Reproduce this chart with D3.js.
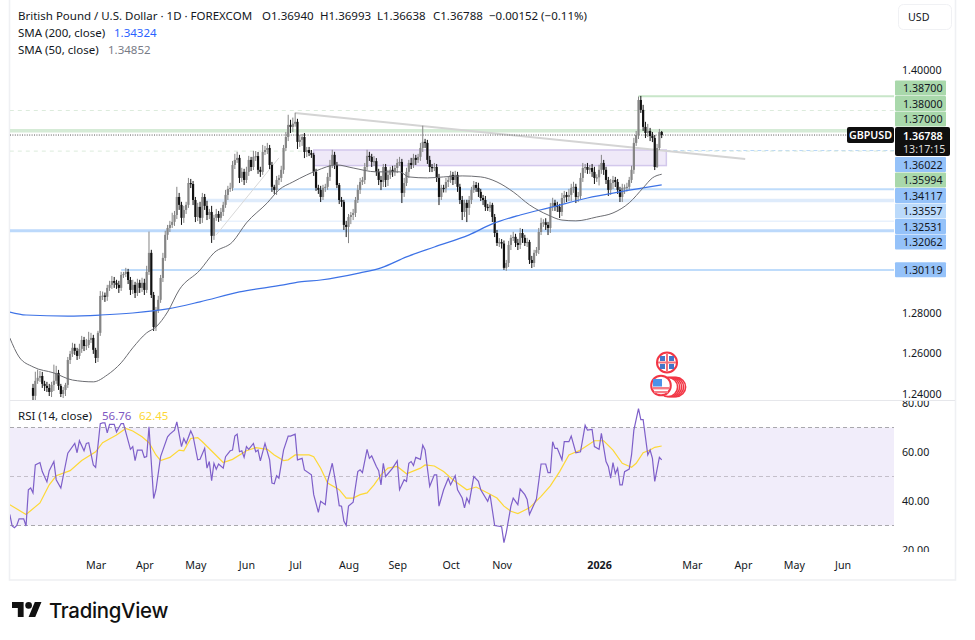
<!DOCTYPE html>
<html>
<head>
<meta charset="utf-8">
<title>GBPUSD daily</title>
<script src="https://cdnjs.cloudflare.com/ajax/libs/d3/7.9.0/d3.min.js"></script>
<style>
html,body{margin:0;padding:0;background:#fff}
svg{display:block}
text{font-family:"Noto Sans","Open Sans",sans-serif;font-size:10.7px;fill:#131722}
text.legend{font-size:11.5px}
</style>
</head>
<body>
<svg id="chart" width="975" height="640"></svg>
<script>
// Daily closes, Feb 2025 to Feb 2026 (each session opens at the prior close)
const firstOpen = 1.2430;
const closes = [
1.2391,1.2465,1.2480,1.2489,1.2450,1.2440,1.2430,1.2410,1.2445,1.2465,
1.2504,1.2440,1.2400,1.2420,1.2445,1.2568,1.2598,1.2628,1.2613,1.2588,
1.2623,1.2667,1.2637,1.2642,1.2667,1.2677,1.2618,1.2578,1.2702,1.2884,
1.2886,1.2880,1.2924,1.2939,1.2958,1.2949,1.2939,1.2924,1.2988,1.2993,
1.3003,1.2963,1.2914,1.2939,1.2899,1.2949,1.2924,1.2949,1.2914,1.3003,
1.3097,1.2889,1.2731,1.2815,1.2865,1.2973,1.3072,1.3186,1.3220,1.3235,
1.3250,1.3284,1.3373,1.3334,1.3270,1.3309,1.3334,1.3442,1.3437,1.3358,
1.3274,1.3324,1.3270,1.3373,1.3329,1.3284,1.3299,1.3181,1.3270,1.3289,
1.3270,1.3299,1.3334,1.3383,1.3413,1.3418,1.3531,1.3556,1.3566,1.3467,
1.3497,1.3457,1.3497,1.3556,1.3521,1.3571,1.3575,1.3507,1.3497,1.3595,
1.3605,1.3615,1.3531,1.3423,1.3408,1.3457,1.3467,1.3507,1.3615,1.3669,
1.3729,1.3719,1.3735,1.3744,1.3645,1.3655,1.3669,1.3595,1.3605,1.3590,
1.3581,1.3497,1.3418,1.3408,1.3373,1.3418,1.3423,1.3472,1.3531,1.3581,
1.3531,1.3432,1.3358,1.3349,1.3235,1.3225,1.3274,1.3284,1.3294,1.3358,
1.3408,1.3447,1.3457,1.3521,1.3576,1.3571,1.3546,1.3550,1.3497,1.3457,
1.3447,1.3521,1.3457,1.3482,1.3507,1.3497,1.3516,1.3541,1.3546,1.3393,
1.3442,1.3497,1.3541,1.3531,1.3566,1.3556,1.3571,1.3615,1.3645,1.3640,
1.3556,1.3521,1.3516,1.3521,1.3467,1.3373,1.3418,1.3415,1.3447,1.3457,
1.3482,1.3457,1.3482,1.3423,1.3358,1.3299,1.3344,1.3319,1.3358,1.3408,
1.3432,1.3418,1.3398,1.3368,1.3358,1.3324,1.3319,1.3334,1.3274,1.3195,
1.3146,1.3150,1.3143,1.3023,1.3047,1.3136,1.3171,1.3176,1.3146,1.3136,
1.3195,1.3171,1.3146,1.3151,1.3062,1.3047,1.3097,1.3111,1.3200,1.3245,
1.3248,1.3235,1.3220,1.3324,1.3344,1.3329,1.3324,1.3299,1.3368,1.3383,
1.3373,1.3383,1.3418,1.3423,1.3373,1.3378,1.3467,1.3516,1.3521,1.3507,
1.3516,1.3497,1.3467,1.3470,1.3507,1.3541,1.3507,1.3457,1.3408,1.3442,
1.3457,1.3447,1.3408,1.3373,1.3418,1.3420,1.3423,1.3457,1.3507,1.3640,
1.3679,1.3852,1.3803,1.3719,1.3689,1.3699,1.3674,1.3664,1.3521,1.3615,
1.3694,1.36788];

// Wick lengths above and below each body, in pips
const upperPips = [
20,45,40,25,20,15,20,20,15,80, 35,15,10,15,10,15,15,25,20,15,
25,20,15,30,40,25,15,10,10,25, 20,15,15,20,25,20,15,20,15,10,
20,15,15,25,15,20,15,25,20,30, 105,15,15,15,20,15,25,20,15,20,
45,20,50,20,15,20,15,25,20,15, 15,20,25,20,15,25,15,30,15,25,
15,20,15,25,15,25,20,30,30,15, 20,15,25,20,15,30,25,20,15,35,
20,25,15,15,10,20,15,20,15,25, 50,25,30,45,15,25,15,20,15,15,
15,10,15,15,20,15,15,20,25,25, 15,15,10,15,10,20,15,15,20,15,
25,20,15,20,30,20,15,25,15,15, 20,15,15,25,15,20,15,20,25,15,
25,20,15,25,20,15,15,25,80,15, 15,20,15,20,15,20,15,15,20,15,
20,15,20,15,15,20,15,15,20,15, 20,15,25,15,15,20,15,15,10,15,
15,20,15,15,15,20,15,25,15,20, 25,20,15,20,10,20,15,15,20,25,
15,20,15,20,25,15,20,15,25,20, 15,30,20,25,15,20,25,25,15,20,
15,20,25,15,25,40,15,15,15,20, 20,15,15,15,20,15,20,15,20,25,
20,17,20,25,25,35,15,20,15,20, 15,5];
const lowerPips = [
25,40,15,20,20,25,20,20,25,30, 15,20,15,20,30,15,20,15,20,20,
15,20,25,20,15,15,20,25,20,15, 20,25,20,15,20,25,20,25,15,15,
15,20,25,20,25,15,25,20,25,15, 15,15,20,20,15,15,20,15,25,20,
15,20,20,25,35,25,20,15,20,25, 25,20,30,25,20,25,20,35,20,15,
20,15,20,15,25,15,15,20,15,25, 20,25,15,20,20,15,20,20,25,15,
15,20,20,25,20,25,25,20,20,15, 20,30,25,15,35,25,30,30,25,15,
15,20,15,20,25,15,20,15,20,15, 20,15,20,25,25,50,80,35,25,20,
15,20,15,20,15,20,25,20,20,25, 40,25,35,30,20,25,20,25,15,50,
20,15,30,20,15,25,15,20,20,25, 20,25,20,15,20,40,15,20,20,25,
15,25,20,25,20,40,25,70,35,20, 15,20,25,15,25,20,15,20,25,20,
15,20,25,10,15,20,25,15,20,25, 20,25,15,20,20,25,20,15,20,15,
20,25,35,25,20,25,25,30,20,25, 25,20,30,25,30,25,15,20,25,20,
20,25,30,20,40,20,25,20,30,25, 30,25,20,25,25,30,20,15,15,20,
15,20,15,20,25,20,25,20,15,5, 10,15];

// Simple moving averages, read at the listed sessions
const sma50Bars = [-10,-6,0,9,17,26,32,38,43,49,53,58,63,72,78,86,92,101,106,112,118,122,131,138,148,158,162,170,177,185,193,200,207,214,222,228,234,243,250,257,263,267,271];
const sma50Vals = [1.2677,1.2583,1.2534,1.2504,1.2469,1.2460,1.2494,1.2554,1.2628,1.2702,1.2731,1.2805,1.2914,1.3012,1.3097,1.3151,1.3245,1.3344,1.3408,1.3447,1.3482,1.3502,1.3531,1.3516,1.3497,1.3497,1.3472,1.3467,1.3472,1.3477,1.3472,1.3447,1.3398,1.3334,1.3284,1.3259,1.3255,1.3274,1.3294,1.3344,1.3418,1.3467,1.34852];
const sma200Bars = [-10,-3,15,29,43,58,72,89,108,115,124,141,150,161,173,188,198,210,224,239,253,271];
const sma200Vals = [1.2805,1.2790,1.2785,1.2790,1.2800,1.2820,1.2855,1.2904,1.2939,1.2954,1.2963,1.2998,1.3023,1.3077,1.3126,1.3186,1.3240,1.3284,1.3324,1.3368,1.3398,1.34324];

// RSI(14) and its moving average
const rsiBars = [-10,-9,-8,-7,-6,-4,-3,-2,-1,0,1,3,4,6,7,9,10,12,15,18,19,20,22,23,24,26,27,29,30,31,32,33,35,36,38,39,42,43,44,45,47,48,49,50,52,53,55,58,59,61,62,64,65,66,68,69,71,72,74,75,76,77,78,79,80,82,83,85,86,87,88,89,90,91,92,93,95,96,97,98,100,102,103,104,105,106,108,110,111,113,114,116,117,120,121,123,124,126,127,129,131,132,133,134,135,136,138,140,141,142,144,145,146,148,149,150,151,152,155,157,158,160,161,162,163,164,165,167,168,169,171,173,174,175,177,179,180,182,183,185,186,187,188,190,192,193,196,197,199,202,203,204,206,207,209,210,212,213,214,217,219,221,222,223,224,225,226,228,229,231,232,234,236,238,239,241,242,244,245,247,248,249,250,251,252,253,254,255,257,258,259,261,262,263,265,266,267,268,270,271];
const rsiVals = [34.5,29.8,29.1,30.0,32.7,32.7,29.8,44.6,45.3,43.3,54.7,55.7,52.0,47.8,52.4,56.1,48.7,45.3,59.5,63.5,59.7,64.6,60.5,63.5,63.8,54.7,53.7,71.6,71.9,71.9,67.8,71.3,71.3,68.2,71.6,71.6,61.1,62.2,56.5,60.8,60.8,57.8,58.1,70.3,41.0,44.6,58.1,66.2,67.3,68.9,72.3,62.2,65.5,63.5,68.6,66.5,56.8,57.0,61.5,53.4,56.1,48.3,55.4,53.0,55.1,53.4,58.1,60.5,60.8,66.5,67.3,60.1,60.5,57.8,62.2,61.1,63.5,60.1,60.8,56.4,63.5,56.8,47.3,47.0,50.3,49.3,60.8,66.5,66.5,67.3,56.8,57.4,52.7,50.7,42.6,35.4,39.9,38.5,48.0,55.4,44.6,38.1,37.9,31.8,30.0,37.9,39.5,52.0,52.7,51.6,61.1,57.4,58.4,54.1,52.4,46.6,55.4,50.0,53.4,56.4,44.6,48.7,48.0,55.4,56.1,54.5,57.8,57.0,62.8,60.8,46.0,50.7,50.7,37.9,44.6,49.3,46.6,50.3,44.6,41.2,37.2,41.2,39.2,50.0,48.0,44.6,39.9,42.6,30.0,29.5,23.0,27.1,37.9,41.2,38.5,44.9,42.6,40.6,34.5,40.8,55.1,55.1,51.6,51.6,64.2,61.5,61.5,56.8,64.2,64.2,66.5,59.7,60.1,70.9,68.9,69.2,62.2,61.1,67.6,56.1,54.1,49.3,55.7,51.1,53.4,46.6,46.6,52.0,53.0,58.8,68.9,77.7,73.2,73.2,58.8,60.8,57.4,48.0,57.8,56.76];
const rsiMaBars = [-10,-3,3,7,10,16,21,27,30,36,40,43,47,50,53,55,59,63,65,68,71,73,78,82,86,92,96,101,104,108,110,113,119,121,124,127,132,135,138,141,144,147,150,153,157,161,167,169,173,177,181,187,191,196,200,203,206,209,214,219,223,227,231,236,242,246,250,254,258,260,263,266,268,271];
const rsiMaVals = [38.5,34.5,39.2,46.6,50.3,52.4,56.5,60.1,63.8,66.9,69.6,68.6,66.2,63.8,58.8,56.5,57.8,60.8,60.5,65.5,65.9,64.2,59.5,55.7,57.0,60.5,61.8,61.1,58.8,56.5,56.8,58.8,58.8,58.1,53.4,47.3,44.6,41.2,41.2,42.6,43.3,46.6,50.7,53.4,54.1,51.1,53.4,54.7,54.3,52.0,48.7,44.6,45.7,43.3,41.2,37.9,35.8,34.9,37.2,41.9,46.2,52.0,58.8,60.8,64.6,64.6,60.8,55.4,53.8,55.4,59.7,60.8,61.9,62.45];

// Price axis and time axis labels
const priceTicks = [1.40, 1.28, 1.26, 1.24];
const rsiTicks = [80, 60, 40, 20];
const rsiGuides = [70, 50, 30];
const timeBars = [27,48,70,92,113,136,157,180,202,244,284,306,328,349];
const timeLabels = ["Mar","Apr","May","Jun","Jul","Aug","Sep","Oct","Nov","2026","Mar","Apr","May","Jun"];

// Drawn support and resistance levels
const levelPrices = [1.387, 1.38, 1.37, 1.36022, 1.35994, 1.34117, 1.33557, 1.32531, 1.32062, 1.30119];
const levelFromBar = [261, -10, -10, 270, -10, 86, 74, 81, -10, 38];
const levelKinds = ["greenSolid","greenDash","greenBand","blueDash","greenDash","blue","blueWide","blueThin","blueBold","blue"];

const lastPrice = 1.36788;

// Trend lines and the shaded zone, as [bar, price] pairs
const trendFrom = [113, 1.3788], trendTo = [307, 1.3560];
const riseFrom = [79, 1.3186], riseTo = [106, 1.3566];
const zoneBars = [121, 273], zonePrices = [1.3605, 1.3528];

const W = 975, H = 640;
const frame = {left: 10, right: 955, top: 0, bottom: 580};
const paneRight = 894;
const svg = d3.select("#chart");
const defs = svg.append("defs");
defs.append("clipPath").attr("id","pricePane").append("rect").attr("x",frame.left).attr("y",0).attr("width",paneRight-frame.left).attr("height",400);
defs.append("clipPath").attr("id","rsiPane").append("rect").attr("x",frame.left).attr("y",401).attr("width",paneRight-frame.left).attr("height",150);
defs.append("clipPath").attr("id","rsiAxisClip").append("rect").attr("x",paneRight).attr("y",401).attr("width",70).attr("height",151);

const x = d3.scaleLinear().domain([0, 271]).range([33, 661.7]);
const y = d3.scaleLinear().domain([1.24, 1.40]).range([394, 70]);
const yRsi = d3.scaleLinear().domain([20, 80]).range([550, 403]);

// Chart frame and pane divider
svg.append("rect").attr("width",W).attr("height",H).attr("fill","#fff");
svg.append("rect").attr("x",frame.left-0.5).attr("y",-2).attr("width",frame.right-frame.left+1).attr("height",frame.bottom+2)
  .attr("fill","none").attr("stroke","#eff0f3").attr("stroke-width",1.6);
svg.append("line").attr("x1",frame.left).attr("x2",frame.right).attr("y1",400.5).attr("y2",400.5).attr("stroke","#e6e7eb");

const pricePane = svg.append("g").attr("clip-path","url(#pricePane)");

// Horizontal levels
const levelStyle = {
  greenSolid:{color:"#c8e6c9",width:2},
  greenDash:{color:"#dcebdc",width:1,dash:"4 4"},
  greenBand:{color:"#d5ebd6",width:3.6},
  blueDash:{color:"#b7d6f7",width:1,dash:"4 3"},
  blue:{color:"#bfdcfb",width:2},
  blueWide:{color:"#deebfb",width:3.6},
  blueThin:{color:"#e8f1fd",width:1.6},
  blueBold:{color:"#bcd9fb",width:3}
};
levelPrices.forEach((p,i)=>{
  const s = levelStyle[levelKinds[i]];
  pricePane.append("line")
    .attr("x1",x(levelFromBar[i])).attr("x2",levelKinds[i]==="greenBand"?847:paneRight)
    .attr("y1",y(p)).attr("y2",y(p))
    .attr("stroke",s.color).attr("stroke-width",s.width).attr("stroke-dasharray",s.dash||null);
});

// Shaded zone and trend lines
pricePane.append("rect")
  .attr("x",x(zoneBars[0])).attr("width",x(zoneBars[1])-x(zoneBars[0]))
  .attr("y",y(zonePrices[0])).attr("height",y(zonePrices[1])-y(zonePrices[0]))
  .attr("fill","#efe9f8").attr("stroke","#d3c8ec").attr("stroke-width",1.5);
pricePane.append("line").attr("x1",x(trendFrom[0])).attr("y1",y(trendFrom[1])).attr("x2",x(trendTo[0])).attr("y2",y(trendTo[1]))
  .attr("stroke","#d4d4d4").attr("stroke-width",2);
pricePane.append("line").attr("x1",x(riseFrom[0])).attr("y1",y(riseFrom[1])).attr("x2",x(riseTo[0])).attr("y2",y(riseTo[1]))
  .attr("stroke","#d8d8d8").attr("stroke-width",1);

// Last price line
pricePane.append("line").attr("x1",frame.left).attr("x2",paneRight).attr("y1",y(lastPrice)).attr("y2",y(lastPrice))
  .attr("stroke","#555").attr("stroke-width",1).attr("stroke-dasharray","1 1.4");

// Candles
const candles = closes.map((c,i)=>{
  const o = i ? closes[i-1] : firstOpen;
  return {i, o, c, h: Math.max(o,c)+upperPips[i]*1e-4, l: Math.min(o,c)-lowerPips[i]*1e-4};
});
const candleColor = d => d.c >= d.o ? "#858585" : "#111";
const candle = pricePane.append("g").selectAll("g").data(candles).join("g");
candle.append("line")
  .attr("x1",d=>x(d.i)).attr("x2",d=>x(d.i)).attr("y1",d=>y(d.h)).attr("y2",d=>y(d.l))
  .attr("stroke",candleColor).attr("stroke-width",1);
candle.append("rect")
  .attr("x",d=>x(d.i)-1.1).attr("width",2.2)
  .attr("y",d=>y(Math.max(d.o,d.c))).attr("height",d=>Math.max(1.2,Math.abs(y(d.o)-y(d.c))))
  .attr("fill",candleColor);

// Moving averages over price
const priceLine = d3.line().x(d=>x(d[0])).y(d=>y(d[1])).curve(d3.curveMonotoneX);
pricePane.append("path").attr("d",priceLine(d3.zip(sma200Bars,sma200Vals)))
  .attr("fill","none").attr("stroke","#3d72e6").attr("stroke-width",1.2);
pricePane.append("path").attr("d",priceLine(d3.zip(sma50Bars,sma50Vals)))
  .attr("fill","none").attr("stroke","#6c6d72").attr("stroke-width",1);

// Price axis
const priceAxis = svg.append("g").attr("transform",`translate(${paneRight+8},0)`)
  .call(d3.axisRight(y).tickValues(priceTicks).tickFormat(d3.format(".5f")).tickSize(0).tickPadding(0));
priceAxis.select(".domain").remove();
priceAxis.selectAll("text").attr("font-size",null).attr("font-family",null).attr("fill",null);

// Level tags stacked around the last price box
const tagH = 15.5, tagX = 895, tagW = 51, boxTop = 127, boxBottom = 156;
const tags = levelPrices.map((p,i)=>({p,kind:levelKinds[i]}));
const above = tags.filter(t=>t.p>lastPrice).sort((a,b)=>a.p-b.p);
const below = tags.filter(t=>t.p<lastPrice).sort((a,b)=>b.p-a.p);
let cursor = boxTop;
above.forEach(t=>{ t.top = Math.min(cursor-tagH, y(t.p)-tagH/2); cursor = t.top; });
cursor = boxBottom+1;
below.forEach(t=>{ t.top = Math.max(cursor, y(t.p)-tagH/2); cursor = t.top+tagH; });
const tagFill = {greenSolid:"#a9d8ab",greenDash:"#a9d8ab",greenBand:"#a9d8ab",blueDash:"#95c2f9",blue:"#95c2f9",blueWide:"#bbdafb",blueThin:"#95c2f9",blueBold:"#95c2f9"};
const tagGroup = svg.append("g").selectAll("g").data(tags).join("g");
tagGroup.append("rect").attr("x",tagX).attr("width",tagW).attr("y",d=>d.top).attr("height",tagH-0.5).attr("rx",1)
  .attr("fill",d=>tagFill[d.kind]);
tagGroup.append("text").attr("x",tagX+8).attr("y",d=>d.top+tagH/2+4).text(d=>d.p.toFixed(5));

// Last price box and symbol tag
svg.append("rect").attr("x",847).attr("y",boxTop).attr("width",47).attr("height",16).attr("rx",2).attr("fill","#0f0f0f");
svg.append("text").attr("x",870.5).attr("y",139).attr("text-anchor","middle").style("fill","#fff").style("font-weight",600).text("GBPUSD");
svg.append("rect").attr("x",895).attr("y",boxTop).attr("width",55).attr("height",boxBottom-boxTop).attr("rx",2).attr("fill","#0f0f0f");
svg.append("text").attr("x",903).attr("y",139.5).style("fill","#fff").style("font-weight",600).text(lastPrice.toFixed(5));
svg.append("text").attr("x",903).attr("y",152.5).style("fill","#dcdcdc").text("13:17:15");

// USD currency button
svg.append("rect").attr("x",898.5).attr("y",4.5).attr("width",53).attr("height",25).attr("rx",5).attr("fill","#fff").attr("stroke","#f0f1f4");
svg.append("text").attr("x",908).attr("y",20.5).text("USD");

// Economic event markers
const marks = svg.append("g");
[ [676,387],[674,387],[672,387],[670,387],[668,387] ].forEach(c=>{
  marks.append("circle").attr("cx",c[0]).attr("cy",c[1]).attr("r",9.6).attr("fill","#fff").attr("stroke","#f23645").attr("stroke-width",1.6);
});
marks.append("circle").attr("cx",661).attr("cy",385.5).attr("r",9.8).attr("fill","#fff").attr("stroke","#f23645").attr("stroke-width",2);
marks.append("rect").attr("x",653).attr("y",387).attr("width",16).attr("height",2.4).attr("fill","#f47c86");
marks.append("rect").attr("x",654).attr("y",391).attr("width",14).attr("height",2.2).attr("fill","#f47c86");
marks.append("rect").attr("x",653).attr("y",379).attr("width",9).attr("height",7.5).attr("fill","#4b92e8");
marks.append("circle").attr("cx",667).attr("cy",362.5).attr("r",10).attr("fill","#fff").attr("stroke","#f23645").attr("stroke-width",2);
[[660,356,665,361],[669,356,674,361],[660,364,665,369],[669,364,674,369]].forEach(r=>{
  marks.append("rect").attr("x",r[0]).attr("y",r[1]).attr("width",r[2]-r[0]).attr("height",r[3]-r[1]).attr("fill","#4476c9");
});
marks.append("line").attr("x1",658).attr("x2",676).attr("y1",362.5).attr("y2",362.5).attr("stroke","#f2707b").attr("stroke-width",2);
marks.append("line").attr("x1",667).attr("x2",667).attr("y1",353.5).attr("y2",371.5).attr("stroke","#f2707b").attr("stroke-width",2);

// RSI pane
const rsiPane = svg.append("g").attr("clip-path","url(#rsiPane)");
rsiPane.append("rect").attr("x",frame.left).attr("width",paneRight-frame.left)
  .attr("y",yRsi(70)).attr("height",yRsi(30)-yRsi(70)).attr("fill","#f1edfa");
rsiPane.selectAll("line.guide").data(rsiGuides).join("line").attr("class","guide")
  .attr("x1",frame.left).attr("x2",paneRight).attr("y1",d=>yRsi(d)).attr("y2",d=>yRsi(d))
  .attr("stroke",d=>d===50?"#c4bfca":"#a9a8ad").attr("stroke-width",1).attr("stroke-dasharray","4 3");
const rsiLine = d3.line().x(d=>x(d[0])).y(d=>yRsi(d[1]));
rsiPane.append("path").attr("d",rsiLine(d3.zip(rsiMaBars,rsiMaVals)))
  .attr("fill","none").attr("stroke","#fdd835").attr("stroke-width",1.2);
rsiPane.append("path").attr("d",rsiLine(d3.zip(rsiBars,rsiVals)))
  .attr("fill","none").attr("stroke","#7e5fc9").attr("stroke-width",1.2);

const rsiAxis = svg.append("g").attr("clip-path","url(#rsiAxisClip)").append("g").attr("transform",`translate(${paneRight+8},0)`)
  .call(d3.axisRight(yRsi).tickValues(rsiTicks).tickFormat(d3.format(".2f")).tickSize(0).tickPadding(0));
rsiAxis.select(".domain").remove();
rsiAxis.selectAll("text").attr("font-size",null).attr("font-family",null).attr("fill",null);

// Time axis
const timeAxis = svg.append("g").attr("transform","translate(0,558)")
  .call(d3.axisBottom(x).tickValues(timeBars).tickFormat((d,i)=>timeLabels[i]).tickSize(0).tickPadding(3));
timeAxis.select(".domain").remove();
timeAxis.selectAll("text").attr("font-size",null).attr("font-family",null).attr("fill",null)
  .style("font-weight",d=>d===244?700:null);

// Legends
const ohlc = svg.append("text").attr("class","legend").attr("x",18).attr("y",20);
ohlc.append("tspan").text("British Pound / U.S. Dollar · 1D · FOREXCOM");
ohlc.append("tspan").attr("x",262).text("O1.36940");
ohlc.append("tspan").attr("x",320).text("H1.36993");
ohlc.append("tspan").attr("x",377).text("L1.36638");
ohlc.append("tspan").attr("x",433).text("C1.36788");
ohlc.append("tspan").attr("x",489).text("−0.00152 (−0.11%)");
const s200 = svg.append("text").attr("class","legend").attr("x",18).attr("y",37);
s200.append("tspan").text("SMA (200, close)");
s200.append("tspan").attr("x",114).style("fill","#2962ff").text("1.34324");
const s50 = svg.append("text").attr("class","legend").attr("x",18).attr("y",54);
s50.append("tspan").text("SMA (50, close)");
s50.append("tspan").attr("x",108).style("fill","#787b86").text("1.34852");
const rsiLegend = svg.append("text").attr("class","legend").attr("x",18).attr("y",420);
rsiLegend.append("tspan").text("RSI (14, close)");
rsiLegend.append("tspan").attr("x",102).style("fill","#7e57c2").text("56.76");
rsiLegend.append("tspan").attr("x",139).style("fill","#fdd835").text("62.45");

// Wordmark
const logo = svg.append("g").attr("transform","translate(12,598.8) scale(0.83)").attr("fill","#111");
logo.append("path").attr("d","M14 22H7V11H0V4h14v18ZM28 22h-8l7.5-18h8L28 22Z");
logo.append("circle").attr("cx",20).attr("cy",8).attr("r",4);
svg.append("text").attr("x",49).attr("y",618).style("font-family","Inter").style("font-size","20.4px").style("font-weight",500).style("fill","#111").style("letter-spacing","-0.3px").text("TradingView");
</script>
</body>
</html>
